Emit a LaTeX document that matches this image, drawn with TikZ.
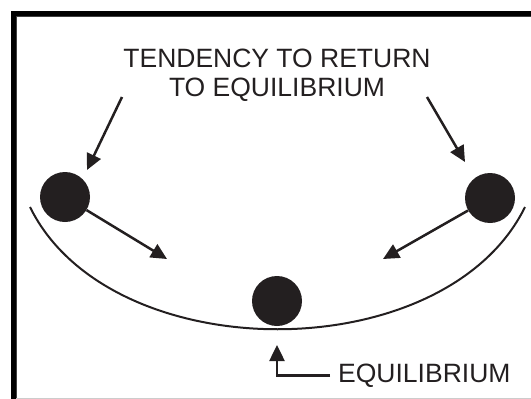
\documentclass[tikz,border=0pt]{standalone}
\usepackage{fontspec}
\setmainfont{Liberation Sans}
\usetikzlibrary{arrows.meta}
\definecolor{ink}{HTML}{231F20}
\begin{document}
\begin{tikzpicture}[x=1pt,y=-1pt,
  ball/.style={circle,fill=ink,inner sep=0pt,minimum size=50pt},
  lbl/.style={font=\fontsize{26.5}{29}\selectfont,text=ink,inner sep=0pt},
  arr/.style={draw=ink,line width=2.5pt,-{Triangle[length=16pt,width=15pt]}},
  track/.style={draw=ink,line width=2pt}]
\useasboundingbox (0,0) rectangle (531,399);
% frame
\fill[black] (10.5,10.5) rectangle (531,15.5);
\fill[black] (10.5,10.5) rectangle (15.5,399);
\draw[black!75,line width=1.5pt] (16.25,399) -- (16.25,16.25) -- (531,16.25);
\draw[black!20,line width=1pt] (16,398.5) -- (531,398.5);
% labels
\node[lbl,align=center,anchor=north] (tend) at (277,49) {TENDENCY TO RETURN\\TO EQUILIBRIUM};
\node[lbl,anchor=base west] (eq) at (338,382) {EQUILIBRIUM};
% balls
\node[ball] (bl) at (65,197) {};
\node[ball] (br) at (490,198) {};
\node[ball] (bm) at (277,301) {};
% track
\draw[track] (30,207) .. controls (110,370) and (445,370) .. (525,207);
% arrow ends
\coordinate (tls) at (122,97);
\coordinate (tle) at (87,170);
\coordinate (trs) at (427,97);
\coordinate (tre) at (465,162);
\coordinate (ale) at (167,259);
\coordinate (are) at (383,259);
\coordinate (eqtip) at (277,345);
% arrows
\draw[arr] (tls) -- (tle);
\draw[arr] (trs) -- (tre);
\draw[arr] (bl) -- (ale);
\draw[arr] (br) -- (are);
\draw[arr] ([xshift=-8pt]eq.west) -| (eqtip);
\end{tikzpicture}
\end{document}
